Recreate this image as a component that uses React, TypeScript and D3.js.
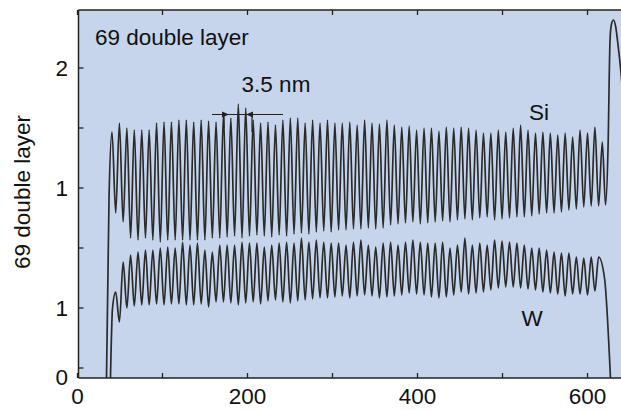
import React from 'react';
import * as d3 from 'd3';

// depth positions (x data units) of the Si maxima, one per double layer
const peakDepth = [
  40.6, 49.3, 58.1, 66.8, 75.6, 84.3, 93.0, 101.8, 110.5, 119.3, 128.0, 136.7, 145.5, 154.2, 163.0, 171.7,
  180.4, 189.2, 197.9, 206.7, 215.4, 224.1, 232.9, 241.6, 250.4, 259.1, 267.8, 276.6, 285.3, 294.1, 302.8, 311.5,
  320.3, 329.0, 337.8, 346.5, 355.2, 364.0, 372.7, 381.5, 390.2, 398.9, 407.7, 416.4, 425.2, 433.9, 442.6, 451.4,
  460.1, 468.9, 477.6, 486.3, 495.1, 503.8, 512.6, 521.3, 530.0, 538.8, 547.5, 556.3, 565.0, 573.7, 582.5, 591.2,
  600.0, 608.7, 617.4,
];

const siPeaks = [
  246, 255, 250, 248, 248, 248, 255, 256, 256, 258, 258, 256, 258, 257, 256, 263,
  260, 274, 270,
  258, 255, 256, 253, 258, 260, 260, 255, 258, 255, 258, 255, 255, 256, 253,
  258, 255, 254, 258, 253, 251, 252, 248, 250, 250, 247, 251, 250, 251, 250, 248, 245,
  245, 248, 246, 250, 253, 248, 245, 246, 245, 243, 245, 241, 248, 245, 251, 236,
];

const siTroughs = [
  165, 156, 140, 138, 140, 138, 136, 138, 138, 138, 138, 138, 138, 140, 140, 141,
  142, 140, 142, 143, 142, 141, 143, 142, 144, 145, 144, 146, 147, 146, 148, 148, 149, 149,
  150, 149, 150, 153, 154, 155, 156, 154, 155, 156, 157, 156, 158, 159, 158, 160, 161,
  158, 159, 160, 161, 161, 162, 164, 165, 165, 166, 168, 169, 171, 172, 172,
];

const wPeaks = [
  86, 116, 123, 126, 128, 128, 130, 131, 130, 136, 133, 135, 128, 126, 133, 133,
  133, 136, 135, 135, 131, 133, 135, 136, 135, 140, 136, 138, 136, 135, 135, 133, 136, 138,
  133, 131, 135, 136, 133, 136, 138, 136, 135, 135, 136, 130, 133, 140, 133, 135, 133,
  138, 137, 136, 135, 133, 130, 130, 128, 126, 125, 125, 121, 120, 121, 121,
];

const wTroughs = [
  56, 70, 72, 73, 73, 74, 73, 74, 74, 73, 73, 74, 71, 76, 76, 75,
  73, 75, 76, 74, 77, 78, 76, 75, 77, 78, 79, 80, 80, 81, 82, 80, 82,
  83, 82, 80, 81, 82, 83, 85, 84, 83, 81, 80, 81, 83, 86, 84, 85, 86,
  88, 90, 91, 91, 90, 89, 88, 86, 85, 84, 82, 84, 84, 83, 87,
];

const siStart: [number, number][] = [[34.1, 0], [37.1, 180]];
const siSurface: [number, number][] = [
  [621.2, 173], [624.1, 228], [626.5, 338], [628.2, 354], [630.6, 358],
  [633.0, 352], [635.9, 333], [639.4, 305], [643.0, 268],
];
const wStart: [number, number][] = [[38.8, 0], [41.2, 70]];
const wEnd: [number, number][] = [[620.0, 100], [627.0, 0]];

const xTickValues = [0, 100, 200, 300, 400, 500, 600];
const xTickLabels = ['0', '', '200', '', '400', '', '600'];
const yTickValues = [10, 70, 130, 190, 250, 310];
const yLabelValues = [1, 70, 190, 310];
const yLabelTexts = ['0', '1', '1', '2'];

const W = 621;
const H = 410;
const left = 78.5;
const top = 10;
const bottom = 378;
const right = 621;
const FONT = '"Liberation Sans", Arial, sans-serif';
const BG = '#c6d5ec';
const FS = 22.5;

export default function App() {
  const x = d3.scaleLinear().domain([0, 639.4]).range([left - 1, right]);
  const y = d3.scaleLinear().domain([0, 368]).range([bottom, top]);

  const mids = d3.pairs(peakDepth, (a, b) => (a + b) / 2);

  const siPts: [number, number][] = [...siStart];
  peakDepth.forEach((d, i) => {
    siPts.push([d, siPeaks[i]]);
    if (i < mids.length) siPts.push([mids[i], siTroughs[i]]);
  });
  siPts.push(...siSurface);

  const wPts: [number, number][] = [...wStart];
  wPeaks.forEach((v, k) => {
    wPts.push([mids[k], v]);
    if (k < wTroughs.length) wPts.push([peakDepth[k + 1], wTroughs[k]]);
  });
  wPts.push(...wEnd);

  const line = d3
    .line<[number, number]>()
    .x((d) => x(d[0]))
    .y((d) => y(d[1]))
    .curve(d3.curveMonotoneX);

  return (
    <svg
      width={W}
      height={H}
      style={{ position: 'absolute', left: 0, top: 0, background: '#fff' }}
      fontFamily={FONT}
    >
      <defs>
        <clipPath id="plot">
          <rect x={left} y={top} width={right - left} height={bottom - top} />
        </clipPath>
      </defs>
      <rect x={left} y={top} width={right - left} height={bottom - top} fill={BG} />

      <g clipPath="url(#plot)" fill="none" stroke="#2a2a2a" strokeWidth={1.7} strokeLinejoin="round">
        <path d={line(siPts) || ''} />
        <path d={line(wPts) || ''} />
      </g>

      {/* frame */}
      <line x1={left} x2={left} y1={top} y2={bottom} stroke="#222" strokeWidth={1.5} />
      <line x1={left} x2={right} y1={bottom} y2={bottom} stroke="#222" strokeWidth={1.5} />
      <line x1={left} x2={right} y1={top} y2={top} stroke="#222" strokeWidth={1.5} />

      {/* x ticks */}
      {xTickValues.map((v, i) => (
        <g key={'xt' + v}>
          <line x1={x(v)} x2={x(v)} y1={bottom} y2={bottom - 5} stroke="#222" strokeWidth={1.3} />
          <line x1={x(v)} x2={x(v)} y1={top} y2={top + 5} stroke="#222" strokeWidth={1.3} />
          {xTickLabels[i] && (
            <text x={x(v)} y={404} textAnchor="middle" fontSize={FS} fill="#111">
              {xTickLabels[i]}
            </text>
          )}
        </g>
      ))}

      {/* y ticks */}
      {yTickValues.map((v) => (
        <line key={'yt' + v} x1={left} x2={left + 5} y1={y(v)} y2={y(v)} stroke="#222" strokeWidth={1.3} />
      ))}
      {yLabelValues.map((v, i) => (
        <text key={'yl' + i} x={68} y={y(v)} dy="0.36em" textAnchor="end" fontSize={FS} fill="#111">
          {yLabelTexts[i]}
        </text>
      ))}

      <text
        transform="translate(30,192) rotate(-90)"
        textAnchor="middle"
        fontSize={FS}
        fill="#111"
      >
        69 double layer
      </text>

      <text x={95} y={45} fontSize={FS} fill="#111">69 double layer</text>
      <text x={276} y={92} textAnchor="middle" fontSize={FS} fill="#111">3.5 nm</text>
      <text x={539} y={120} textAnchor="middle" fontSize={FS} fill="#111">Si</text>
      <text x={532} y={326} textAnchor="middle" fontSize={FS} fill="#111">W</text>

      {/* period annotation */}
      <g stroke="#222" strokeWidth={1.2}>
        <line x1={212} x2={283} y1={114.5} y2={114.5} />
        <line x1={224} x2={224} y1={114.5} y2={128} />
        <line x1={252} x2={252} y1={114.5} y2={132} />
      </g>
      <path d="M229,114.5 L222,111.5 L222,117.5 Z" fill="#222" />
      <path d="M246,114.5 L253,111.5 L253,117.5 Z" fill="#222" />
    </svg>
  );
}
